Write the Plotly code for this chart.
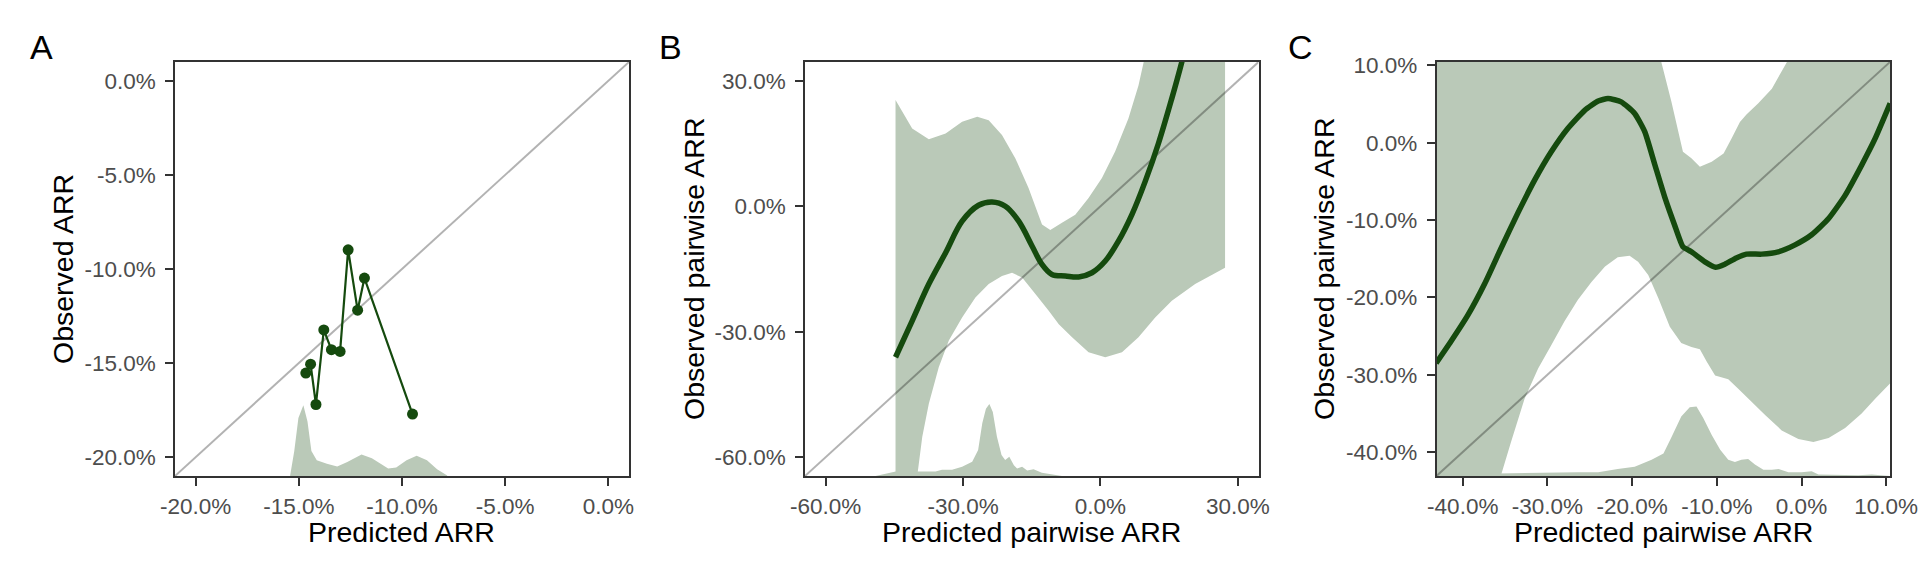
import plotly.graph_objects as go

W, H = 1920, 576

# ---------------- data (percent units) ----------------
# Panel A: binned predicted vs observed ARR
a_pred = [-14.66, -14.43, -14.17, -13.79, -13.42, -13.00, -12.61, -12.15, -11.82, -9.49]
a_obs = [-15.53, -15.06, -17.20, -13.24, -14.29, -14.38, -8.98, -12.19, -10.48, -17.71]
a_dens_x = [-15.42, -15.22, -15.02, -14.78, -14.58, -14.39, -14.13, -13.64, -13.14, -12.65,
            -11.96, -11.46, -10.67, -10.28, -9.78, -9.29, -8.79, -8.30, -7.81]
a_dens_y = [-20.97, -19.67, -17.92, -17.24, -18.10, -19.67, -20.16, -20.35, -20.49, -20.25,
            -19.86, -20.06, -20.60, -20.55, -20.16, -19.92, -20.16, -20.64, -20.97]

# Panel B: smooth fit of observed vs predicted pairwise ARR
b_x = [-44.74, -41.1, -37.47, -33.8, -30.2, -26.6, -23.66, -20.76, -17.85, -14.94, -12.76,
       -10.6, -7.67, -4.77, -1.86, 1.05, 3.95, 6.86, 9.77, 12.67, 15.58, 17.76, 19.0]
b_y = [-36.1, -27.4, -18.6, -11.1, -3.57, 0.24, 1.03, 0.0, -3.57, -9.5, -13.9,
       -16.3, -16.65, -16.9, -15.9, -13.1, -8.3, -2.0, 5.95, 15.07, 25.8, 34.5, 40.0]
b_up_x = [-44.74, -41.1, -37.47, -33.8, -30.2, -26.9, -24.4, -21.5, -18.6, -15.7, -12.76,
          -10.95, -8.4, -5.5, -2.6, 0.32, 3.2, 6.1, 8.3, 9.4, 11.0, 27.2]
b_up_y = [25.4, 18.6, 16.0, 17.4, 20.2, 21.4, 20.6, 17.05, 11.5, 4.36, -4.36,
          -5.7, -3.97, -2.0, 2.0, 6.74, 13.1, 21.0, 28.9, 34.3, 42.0, 60.0]
b_lo_x = [-44.74, -41.0, -40.0, -38.9, -37.47, -35.3, -33.1, -30.2, -27.3, -24.4, -21.5,
          -19.3, -17.1, -14.2, -11.3, -9.1, -6.2, -2.6, 1.05, 4.7, 8.3, 11.95, 15.58, 20.67, 27.2]
b_lo_y = [-95.0, -72.0, -64.5, -55.1, -47.2, -38.5, -32.1, -26.6, -21.8, -18.6, -16.65,
          -15.9, -17.05, -21.0, -25.0, -28.2, -31.3, -34.9, -36.1, -34.9, -31.3, -26.6, -22.6, -18.6, -14.7]
b_dens_x = [-49.1, -44.7, -36.0, -34.6, -32.4, -30.2, -28.0, -26.7, -25.8, -25.0, -24.25,
            -23.5, -22.6, -21.6, -20.8, -19.9, -18.9, -18.2, -17.1, -16.0, -14.6, -12.8, -8.4]
b_dens_y = [-64.5, -63.4, -63.4, -63.0, -63.0, -62.3, -61.1, -58.3, -51.9, -48.4, -47.3,
            -49.2, -55.1, -59.5, -60.7, -59.9, -61.9, -62.7, -62.3, -63.2, -62.9, -63.7, -64.5]

# Panel C: smooth fit (second model)
c_x = [-43.15, -41.4, -39.4, -37.4, -35.5, -33.5, -31.5, -29.55, -27.6, -25.6, -24.0, -22.85,
       -21.3, -19.7, -18.5, -17.3, -16.1, -15.0, -14.0, -13.0, -11.4, -10.15, -9.05, -7.7,
       -6.5, -4.7, -2.74, -0.76, 1.2, 3.2, 5.15, 7.1, 8.7, 10.47]
c_y = [-28.5, -25.7, -22.3, -18.2, -13.7, -9.1, -4.8, -1.16, 1.85, 4.2, 5.4, 5.73,
       5.3, 3.8, 1.42, -2.9, -7.2, -10.6, -13.45, -14.1, -15.4, -16.1, -15.7, -14.9,
       -14.4, -14.4, -14.1, -13.2, -11.9, -9.8, -6.8, -2.9, 0.56, 5.1]
c_up_x = [-43.15, -17.6, -16.54, -15.36, -14.0, -13.0, -12.0, -10.6, -9.2, -8.26, -7.27,
          -6.5, -5.1, -3.5, -1.75, 0.0, 10.47]
c_up_y = [15.0, 15.0, 10.4, 5.3, -1.16, -2.0, -3.1, -2.45, -1.38, 0.56, 2.7,
          3.66, 5.1, 7.0, 10.4, 15.0, 15.0]
c_lo_x = [-43.15, -37.0, -35.5, -34.3, -32.7, -31.1, -29.55, -28.0, -26.4, -24.8, -23.2, -21.7,
          -20.3, -19.3, -18.1, -16.9, -15.55, -14.2, -13.0, -12.0, -11.2, -10.2, -8.65, -7.47,
          -5.9, -4.3, -2.34, -0.37, 1.4, 3.2, 5.15, 7.1, 8.7, 10.47]
c_lo_y = [-50.0, -50.0, -43.06, -38.7, -33.1, -29.2, -26.2, -23.1, -20.3, -18.0, -16.0, -14.8,
          -14.6, -15.4, -17.1, -20.1, -23.8, -25.9, -26.4, -26.7, -28.3, -30.1, -30.6, -31.8,
          -33.5, -35.2, -37.2, -38.3, -38.7, -38.2, -36.9, -35.0, -33.1, -31.1]
c_dens_x = [-43.0, -26.4, -24.0, -21.7, -19.7, -17.7, -16.3, -15.4, -14.2, -13.2, -12.4, -11.6,
            -10.6, -9.6, -8.65, -7.86, -7.1, -6.3, -5.5, -4.5, -3.5, -2.7, -1.55, 0.0, 1.2,
            2.0, 6.7, 8.3, 10.47]
c_dens_y = [-42.9, -42.6, -42.6, -42.2, -41.9, -41.0, -40.2, -38.2, -35.4, -34.2, -34.1, -35.6,
            -37.8, -39.7, -41.0, -41.3, -41.0, -40.9, -41.6, -42.3, -42.3, -42.2, -42.6, -42.6, -42.5,
            -42.9, -43.0, -42.9, -43.1]

# axis ranges and ticks
a_range = [-21.0, 1.0]
b_range = [-64.5, 34.5]
c_range = [-43.1, 10.45]
a_ticks = [-20, -15, -10, -5, 0]
a_ticktext = ["-20.0%", "-15.0%", "-10.0%", "-5.0%", "0.0%"]
b_ticks = [-60, -30, 0, 30]
b_ticktext = ["-60.0%", "-30.0%", "0.0%", "30.0%"]
c_ticks = [-40, -30, -20, -10, 0, 10]
c_ticktext = ["-40.0%", "-30.0%", "-20.0%", "-10.0%", "0.0%", "10.0%"]

# ---------------- style ----------------
LINE = "#154a0e"
FILL = "#bac9b8"
DIAG = "rgba(0,0,0,0.3)"
FONT = "Liberation Sans, Arial, sans-serif"

fig = go.Figure()


def polygon(xu, yu, xl, yl):
    return list(xu) + list(reversed(xl)), list(yu) + list(reversed(yl))


def add_density(xs, ys, base, ax):
    px = [xs[0]] + list(xs) + [xs[-1]]
    py = [base] + list(ys) + [base]
    fig.add_trace(go.Scatter(x=px, y=py, fill="toself", fillcolor=FILL, mode="none",
                             xaxis="x" + ax, yaxis="y" + ax, showlegend=False, hoverinfo="skip"))


def add_diag(rng, ax):
    fig.add_trace(go.Scatter(x=rng, y=rng, mode="lines", line=dict(color=DIAG, width=2),
                             xaxis="x" + ax, yaxis="y" + ax, showlegend=False, hoverinfo="skip"))


# Panel A
add_density(a_dens_x, a_dens_y, a_range[0] - 1, "")
add_diag(a_range, "")
fig.add_trace(go.Scatter(x=a_pred, y=a_obs, mode="lines+markers",
                         line=dict(color=LINE, width=2.2), marker=dict(color=LINE, size=11),
                         xaxis="x", yaxis="y", showlegend=False))

# Panel B
px, py = polygon(b_up_x, b_up_y, b_lo_x, b_lo_y)
fig.add_trace(go.Scatter(x=px, y=py, fill="toself", fillcolor=FILL, mode="none",
                         xaxis="x2", yaxis="y2", showlegend=False, hoverinfo="skip"))
add_density(b_dens_x, b_dens_y, b_range[0] - 1, "2")
add_diag(b_range, "2")
fig.add_trace(go.Scatter(x=b_x, y=b_y, mode="lines", line=dict(color=LINE, width=5.5, shape="spline"),
                         xaxis="x2", yaxis="y2", showlegend=False))

# Panel C
px, py = polygon(c_up_x, c_up_y, c_lo_x, c_lo_y)
fig.add_trace(go.Scatter(x=px, y=py, fill="toself", fillcolor=FILL, mode="none",
                         xaxis="x3", yaxis="y3", showlegend=False, hoverinfo="skip"))
add_density(c_dens_x, c_dens_y, c_range[0] - 1, "3")
add_diag(c_range, "3")
fig.add_trace(go.Scatter(x=c_x, y=c_y, mode="lines",
                         line=dict(color=LINE, width=5.5, shape="spline", smoothing=0.5),
                         xaxis="x3", yaxis="y3", showlegend=False))

# ---------------- layout ----------------
y_dom = [1 - 476 / H, 1 - 62 / H]
x_doms = [[175 / W, 629 / W], [805 / W, 1258.5 / W], [1436.5 / W, 1890 / W]]


def axis_style(rng, ticks, ticktext, dom, anchor, standoff):
    return dict(range=rng, tickvals=ticks, ticktext=ticktext, domain=dom, anchor=anchor,
                showgrid=False, zeroline=False, showline=True, mirror=True,
                linecolor="#333333", linewidth=1.5, ticks="outside", ticklen=8, tickwidth=2,
                tickcolor="#333333", ticklabelstandoff=standoff, automargin=False,
                tickfont=dict(family=FONT, size=22.5, color="#4d4d4d"))


layout = dict(width=W, height=H, margin=dict(l=0, r=0, t=0, b=0, pad=0), autosize=False,
              paper_bgcolor="white", plot_bgcolor="white", showlegend=False)
ranges = [(a_range, a_ticks, a_ticktext), (b_range, b_ticks, b_ticktext), (c_range, c_ticks, c_ticktext)]
for i, ((rng, tv, tt), dom) in enumerate(zip(ranges, x_doms)):
    sfx = "" if i == 0 else str(i + 1)
    layout["xaxis" + sfx] = axis_style(rng, tv, tt, dom, "y" + sfx, 1)
    layout["yaxis" + sfx] = axis_style(rng, tv, tt, y_dom, "x" + sfx, 5)
fig.update_layout(**layout)

x_titles = ["Predicted ARR", "Predicted pairwise ARR", "Predicted pairwise ARR"]
y_titles = ["Observed ARR", "Observed pairwise ARR", "Observed pairwise ARR"]
panel_tags = ["A", "B", "C"]
y_title_px = [63, 694, 1324]
tag_px = [41, 670, 1300.5]

for i in range(3):
    cx = (x_doms[i][0] + x_doms[i][1]) / 2
    fig.add_annotation(x=cx, y=1 - 532 / H, xref="paper", yref="paper", text=x_titles[i],
                       showarrow=False, xanchor="center", yanchor="middle",
                       font=dict(family=FONT, size=28.5, color="black"))
    fig.add_annotation(x=y_title_px[i] / W, y=(y_dom[0] + y_dom[1]) / 2, xref="paper", yref="paper",
                       text=y_titles[i], textangle=-90, showarrow=False, xanchor="center",
                       yanchor="middle", font=dict(family=FONT, size=28.5, color="black"))
    fig.add_annotation(x=tag_px[i] / W, y=1 - 47 / H, xref="paper", yref="paper", text=panel_tags[i],
                       showarrow=False, xanchor="center", yanchor="middle",
                       font=dict(family=FONT, size=34, color="black"))

fig.write_html("out.html", config={"displayModeBar": False},
               post_script="document.body.style.margin='0';document.body.style.overflow='hidden';")
